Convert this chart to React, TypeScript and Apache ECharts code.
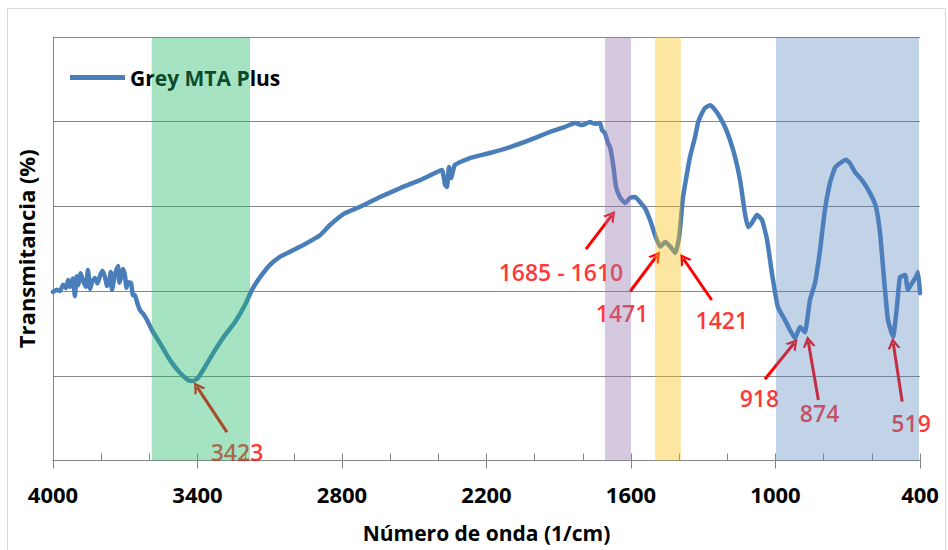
import React, { useEffect, useRef } from "react";
import * as echarts from "echarts";

// Wavenumber (1/cm) and transmittance (arbitrary %, 0-100 grid scale)
const wavenumbers = [
  4000, 3985, 3971, 3958, 3946, 3937, 3929, 3918, 3909, 3902, 3896, 3885, 3875, 3863, 3855, 3846,
  3838, 3826, 3815, 3805, 3795, 3784, 3775, 3767, 3760, 3755, 3743, 3730, 3724, 3718, 3709, 3701,
  3695, 3689, 3676, 3668, 3660, 3650, 3639, 3625, 3610, 3589, 3556, 3514, 3473, 3439, 3419, 3398,
  3369, 3327, 3286, 3244, 3203, 3174, 3140, 3099, 3058, 2995, 2954, 2891, 2850, 2788, 2725, 2642,
  2559, 2476, 2414, 2385, 2372, 2364, 2356, 2347, 2331, 2269, 2186, 2102, 2019, 1936, 1874, 1833,
  1804, 1770, 1750, 1729, 1720, 1708, 1696, 1687, 1675, 1662, 1646, 1625, 1604, 1583, 1562, 1542,
  1521, 1500, 1479, 1458, 1437, 1416, 1400, 1384, 1367, 1355, 1334, 1322, 1313, 1293, 1272, 1251,
  1231, 1210, 1189, 1168, 1147, 1127, 1114, 1098, 1077, 1056, 1035, 1015, 990, 961, 940, 919, 898,
  878, 857, 836, 815, 795, 774, 753, 732, 707, 691, 670, 641, 608, 583, 566, 550, 533, 512, 496,
  483, 462, 450, 433, 417, 408, 400,
];
const transmittance = [
  39.8, 40.3, 40.0, 41.5, 40.7, 42.6, 41.0, 43.0, 38.8, 43.5, 41.4, 44.2, 42.4, 41.0, 45.0, 40.5,
  42.1, 43.1, 41.8, 43.6, 44.8, 43.3, 41.2, 42.1, 44.5, 40.3, 43.8, 45.9, 42.0, 43.1, 45.2, 43.6,
  40.8, 42.1, 41.9, 39.0, 39.1, 37.2, 35.5, 34.6, 33.2, 30.8, 27.7, 23.7, 20.7, 19.0, 18.8, 19.5,
  22.1, 26.1, 29.6, 32.7, 36.7, 40.3, 43.3, 46.2, 48.1, 49.9, 51.1, 53.2, 55.6, 58.4, 59.9, 62.2,
  64.3, 66.2, 67.9, 68.6, 65.1, 64.6, 69.3, 66.7, 69.8, 71.4, 72.6, 74.0, 75.7, 77.6, 78.8, 79.7,
  79.2, 79.9, 79.5, 79.7, 78.0, 77.3, 75.0, 74.0, 70.2, 64.6, 62.2, 60.8, 62.0, 62.2, 61.0, 59.6,
  56.8, 53.2, 50.5, 51.6, 50.5, 49.0, 52.8, 62.2, 67.9, 71.7, 76.4, 79.7, 81.1, 83.2, 83.9, 82.8,
  81.1, 78.8, 75.7, 71.7, 66.2, 58.4, 55.1, 56.1, 58.0, 56.8, 52.1, 44.3, 36.2, 33.2, 30.8, 28.9, 31.5,
  30.3, 37.9, 41.9, 49.7, 59.1, 65.5, 69.1, 70.2, 71.0, 70.2, 68.1, 66.2, 63.2, 59.9, 53.7, 43.3, 33.2, 29.2, 36.2,
  43.3, 43.8, 40.3, 41.9, 43.3, 44.5, 39.5,
];

// Highlighted bands [from, to], their colours and opacities
const bandRanges: [number, number][] = [
  [3590, 3182],
  [1708, 1600],
  [1500, 1393],
  [998, 404],
];
const bandColors = ["#20b969", "#9678b1", "#fac011", "#4f81bd"];
const bandOpacity = [0.4, 0.4, 0.4, 0.35];

// Peak annotations: label text, label position, arrow tail, arrow head
const noteTexts = ["3423", "1685 - 1610", "1471", "1421", "918", "874", "519"];
const notePositions: [number, number][] = [
  [3236, 2.0],
  [1891, 44.6],
  [1637, 34.8],
  [1223, 33.2],
  [1067, 14.7],
  [817, 11.1],
  [437, 8.9],
];
const arrowTails: [number, number][] = [
  [3278, 6.7],
  [1787, 49.9],
  [1604, 39.9],
  [1265, 37.9],
  [1044, 19.2],
  [822, 14.3],
  [474, 13.9],
];
const arrowHeads: [number, number][] = [
  [3402, 17.4],
  [1680, 57.9],
  [1493, 48.3],
  [1383, 47.7],
  [923, 27.7],
  [864, 28.1],
  [511, 27.7],
];

const FONT = "'Open Sans', 'DejaVu Sans', sans-serif";
const GRID_COLOR = "#868686";

export default function App() {
  const ref = useRef<HTMLDivElement>(null);

  useEffect(() => {
    if (!ref.current) return;
    const chart = echarts.init(ref.current, undefined, { renderer: "svg" });
    const lineData = wavenumbers.map((w, i) => [w, transmittance[i]]);
    const chevron = "path://M0,12 L6,0 L12,12 L9.6,12 L6,4.8 L2.4,12 Z";

    chart.setOption({
      animation: false,
      backgroundColor: "#ffffff",
      graphic: [
        {
          type: "rect",
          shape: { x: 7.5, y: 8.5, width: 938, height: 600 },
          style: { fill: "none", stroke: "#d9d9d9", lineWidth: 1 },
          z: -1,
          silent: true,
        },
      ],
      grid: { left: 53, right: 28, top: 37, bottom: 89.5, containLabel: false },
      legend: {
        data: ["Grey MTA Plus"],
        left: 70,
        top: 67,
        padding: 0,
        icon: "rect",
        itemWidth: 55,
        itemHeight: 5,
        textStyle: { fontFamily: FONT, fontSize: 21, fontWeight: "bold", color: "#000" },
      },
      xAxis: [
        {
          type: "value",
          inverse: true,
          min: 400,
          max: 4000,
          interval: 600,
          name: "Número de onda (1/cm)",
          nameLocation: "middle",
          nameGap: 62,
          nameTextStyle: { fontFamily: FONT, fontSize: 21, fontWeight: "bold", color: "#000" },
          axisLine: { show: true, lineStyle: { color: GRID_COLOR, width: 1 } },
          axisTick: { show: true, inside: false, length: 8, lineStyle: { color: GRID_COLOR } },
          axisLabel: {
            fontFamily: FONT,
            fontSize: 22,
            fontWeight: "bold",
            color: "#000",
            margin: 22,
            formatter: (v: number) => String(v),
          },
          splitLine: { show: false },
        },
        {
          type: "value",
          inverse: true,
          min: 400,
          max: 4000,
          interval: 200,
          position: "bottom",
          axisLine: { show: false },
          axisTick: { show: true, inside: true, length: 7, lineStyle: { color: GRID_COLOR } },
          axisLabel: { show: false },
          splitLine: { show: false },
        },
      ],
      yAxis: {
        type: "value",
        min: 0,
        max: 100,
        interval: 20,
        name: "Transmitancia (%)",
        nameLocation: "middle",
        nameGap: 16,
        nameTextStyle: { fontFamily: FONT, fontSize: 22, fontWeight: "bold", color: "#000" },
        axisLine: { show: true, lineStyle: { color: GRID_COLOR, width: 1 } },
        axisTick: { show: false },
        axisLabel: { show: false },
        splitLine: { show: true, lineStyle: { color: GRID_COLOR, width: 1 } },
      },
      series: [
        {
          name: "Grey MTA Plus",
          type: "line",
          data: lineData,
          showSymbol: false,
          symbol: "none",
          smooth: 0.15,
          z: 2,
          lineStyle: { color: "#4a7ebb", width: 4.5, cap: "round", join: "round" },
          itemStyle: { color: "#4a7ebb" },
          markLine: {
            silent: true,
            z: 4,
            symbol: ["none", chevron],
            symbolSize: [13, 11],
            label: { show: false },
            lineStyle: { color: "#ff0000", width: 3, type: "solid" },
            data: arrowTails.map((t, i) => [
              { coord: [t[0], t[1]] },
              { coord: [arrowHeads[i][0], arrowHeads[i][1]] },
            ]),
          },
        },
        {
          name: "notes",
          type: "scatter",
          z: 3,
          symbolSize: 0,
          silent: true,
          data: notePositions.map((p, i) => [p[0], p[1], noteTexts[i]]),
          label: {
            show: true,
            position: "inside",
            formatter: (p: any) => p.data[2],
            fontFamily: FONT,
            fontSize: 23,
            fontWeight: 600,
            color: "#ff0000",
          },
        },
        {
          name: "bands",
          type: "line",
          data: [],
          z: 10,
          silent: true,
          markArea: {
            silent: true,
            z: 10,
            data: bandRanges.map((b, i) => [
              { xAxis: b[0], itemStyle: { color: bandColors[i], opacity: bandOpacity[i] } },
              { xAxis: b[1] },
            ]),
          },
        },
      ],
    });
    return () => chart.dispose();
  }, []);

  return (
    <div
      ref={ref}
      style={{ position: "absolute", left: 0, top: 0, width: 948, height: 550, background: "#fff" }}
    />
  );
}
